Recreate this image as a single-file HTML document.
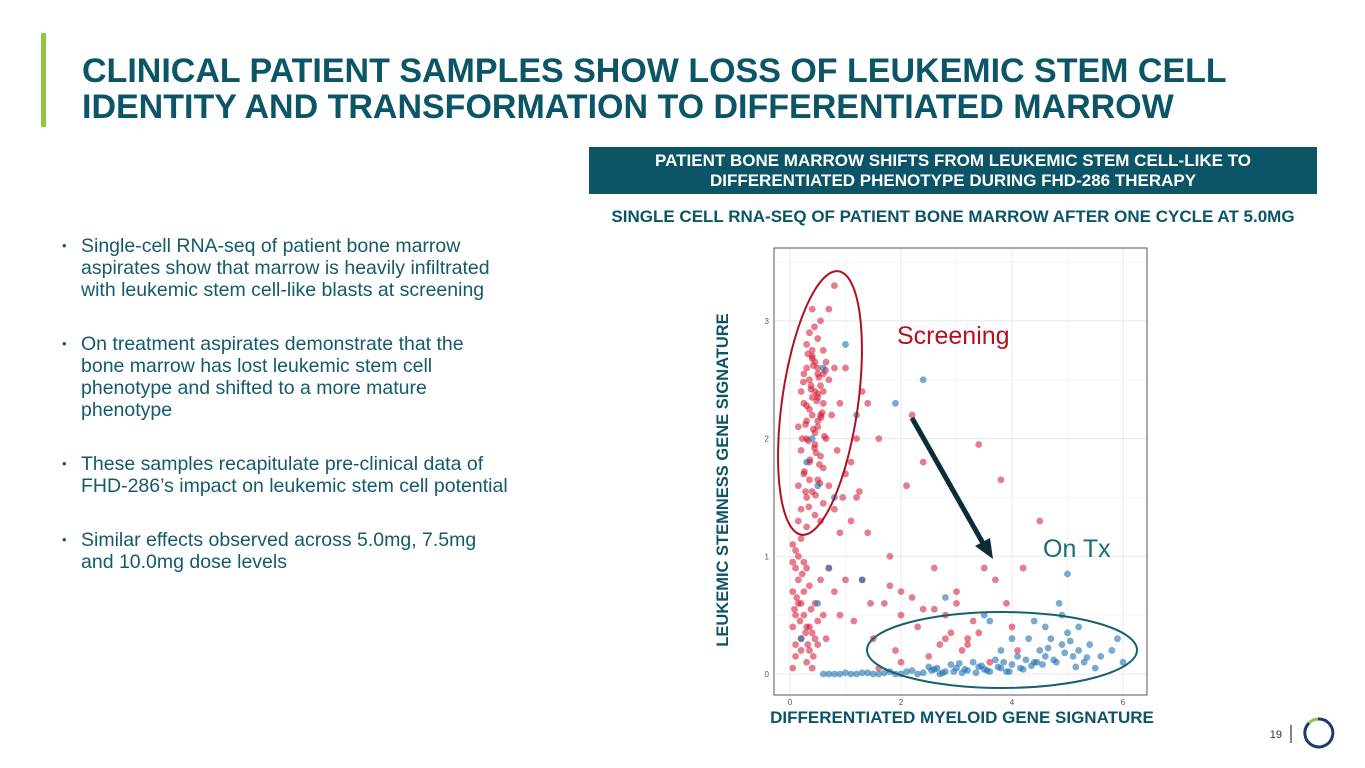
<!DOCTYPE html>
<html><head><meta charset="utf-8">
<style>
body{margin:0;width:1365px;height:768px;background:#fff;font-family:"Liberation Sans",sans-serif;position:relative;overflow:hidden}
.abs{position:absolute}
#title{left:82px;top:53px;font-size:34px;font-weight:bold;color:#0b5566;line-height:36px;white-space:nowrap}
#bar{left:41px;top:33px;width:5px;height:94px;background:#8dc63f}
ul{position:absolute;left:62px;top:235px;width:470px;margin:0;padding:0;list-style:none;color:#155a6b;font-size:19.5px;line-height:22px}
li{position:relative;padding-left:19px;margin-bottom:32px}
li:before{content:"•";position:absolute;left:0;font-size:13px}
#hdr{left:589px;top:147px;width:728px;height:47px;background:#0b5566;color:#fff;font-weight:bold;font-size:17px;text-align:center;line-height:20px;box-sizing:border-box;padding-top:4px}
#sub{left:589px;top:207px;width:728px;text-align:center;color:#0b5566;font-weight:bold;font-size:17px;white-space:nowrap}
</style></head><body>
<div id="bar" class="abs"></div>
<div id="title" class="abs">CLINICAL PATIENT SAMPLES SHOW LOSS OF LEUKEMIC STEM CELL<br>IDENTITY AND TRANSFORMATION TO DIFFERENTIATED MARROW</div>
<ul>
<li>Single-cell RNA-seq of patient bone marrow<br>aspirates show that marrow is heavily infiltrated<br>with leukemic stem cell-like blasts at screening</li>
<li>On treatment aspirates demonstrate that the<br>bone marrow has lost leukemic stem cell<br>phenotype and shifted to a more mature<br>phenotype</li>
<li>These samples recapitulate pre-clinical data of<br>FHD-286’s impact on leukemic stem cell potential</li>
<li>Similar effects observed across 5.0mg, 7.5mg<br>and 10.0mg dose levels</li>
</ul>
<div id="hdr" class="abs">PATIENT BONE MARROW SHIFTS FROM LEUKEMIC STEM CELL-LIKE TO<br>DIFFERENTIATED PHENOTYPE DURING FHD-286 THERAPY</div>
<div id="sub" class="abs">SINGLE CELL RNA-SEQ OF PATIENT BONE MARROW AFTER ONE CYCLE AT 5.0MG</div>
<svg id="chart" class="abs" style="left:0;top:0" width="1365" height="768"></svg>
<script>
const redX=[0.3,0.4,0.5,0.35,0.45,0.55,0.25,0.6,0.4,0.5,0.3,0.2,0.45,0.55,0.35,0.25,0.5,0.4,0.3,0.2,0.45,0.6,0.7,0.65,0.7,0.8,0.75,0.5,0.6,0.35,0.55,0.7,0.8,0.4,0.3,0.2,0.15,0.15,0.5,0.45,0.4,0.55,0.3,0.35,0.6,0.25,0.45,0.65,0.9,1.0,0.85,0.95,0.15,0.3,0.55,0.8,0.4,0.5,0.35,0.6,
0.32,0.42,0.52,0.38,0.48,0.58,0.28,0.62,0.44,0.36,0.26,0.54,0.46,0.34,0.24,0.64,0.4,0.5,0.3,0.56,0.42,0.33,0.47,0.53,0.22,0.38,0.6,0.28,0.44,0.5,
0.05,0.1,0.15,0.05,0.2,0.1,0.3,0.2,0.35,0.1,0.4,0.5,0.15,0.25,0.05,0.1,0.3,0.5,0.6,0.45,0.55,0.7,0.8,0.2,0.35,0.05,0.65,0.9,1.0,0.25,
0.08,0.12,0.18,0.22,0.28,0.32,0.38,0.42,0.15,0.25,0.35,0.45,0.05,0.1,0.2,0.3,
1.2,1.4,1.6,1.8,2.0,2.2,2.4,2.6,2.8,3.0,3.2,3.4,3.5,3.7,3.8,4.0,4.2,4.5,1.5,1.9,2.3,2.5,2.7,3.1,3.3,3.6,4.1,1.3,1.1,1.7,2.1,2.9,1.6,2.0,0.4,3.9,2.4,1.3,
1.1,1.25,1.45,1.2,1.0,2.2,2.6,3.0,3.4,2.0,1.8,2.8,3.2,1.4,0.9,1.15];
const redY=[2.8,2.7,2.6,2.5,2.4,2.45,2.3,2.3,2.2,2.1,2.0,1.9,1.95,1.85,1.8,1.7,1.65,1.55,1.5,1.4,1.35,1.45,1.6,2.0,2.5,2.6,2.2,2.85,2.75,2.9,3.0,3.1,3.3,3.1,2.6,2.4,2.1,1.6,2.55,2.65,2.35,2.2,2.15,1.65,1.75,2.55,2.05,2.65,2.3,2.6,1.9,1.5,1.3,1.25,1.3,1.4,2.75,2.35,2.25,2.55,
2.72,2.62,2.52,2.42,2.32,2.22,2.12,2.02,1.92,1.82,1.72,1.62,1.52,1.42,2.48,2.58,2.68,2.38,2.28,2.18,2.08,1.98,1.88,1.78,2.0,2.45,2.4,1.55,2.95,2.15,
1.1,0.9,0.8,0.7,0.6,0.5,0.4,0.3,0.2,0.25,0.35,0.45,1.0,0.95,0.4,0.15,0.1,0.25,0.5,0.6,0.8,0.9,0.7,1.15,0.75,0.05,0.3,0.5,0.8,0.5,
0.55,0.65,0.45,0.85,0.35,0.25,0.55,0.15,0.6,0.7,0.4,0.3,0.95,1.05,0.2,0.9,
1.5,1.2,2.0,1.0,0.7,2.2,1.8,0.9,0.5,0.6,0.3,1.95,0.9,0.8,1.65,0.4,0.9,1.3,0.3,0.2,0.4,0.15,0.25,0.2,0.45,0.1,0.2,2.4,1.8,0.6,1.6,0.35,0.05,0.1,0.05,0.6,0.55,0.8,
1.3,1.55,0.6,2.0,1.7,0.65,0.55,0.7,0.35,0.5,0.75,0.3,0.25,2.3,1.2,0.45];
const blueX=[0.6,0.8,1.0,1.2,1.4,1.6,1.8,2.0,2.2,2.4,2.6,2.8,3.0,3.2,3.4,3.6,3.8,4.0,4.2,4.4,2.5,2.9,3.3,3.7,3.1,3.5,3.9,2.7,
0.7,0.9,1.1,1.3,1.5,1.7,1.9,2.1,2.3,2.55,2.75,2.95,3.15,3.35,3.55,3.75,3.95,4.15,4.35,3.05,3.45,3.85,4.25,2.65,
4.5,4.6,4.7,4.8,4.9,5.0,5.1,5.2,5.3,5.4,5.5,5.6,4.3,4.1,4.4,4.85,5.0,5.8,6.0,5.9,3.6,3.8,4.0,4.6,5.2,4.9,
4.55,4.75,4.95,5.15,5.35,4.65,4.45,5.05,
0.4,0.5,0.6,0.3,0.8,1.2,1.3,2.4,1.9,0.7,0.2,0.5,1.0,3.5,2.8];
const blueY=[0,0,0.01,0,0.01,0,0.02,0,0.03,0.01,0.04,0.02,0.05,0.03,0.06,0.02,0.05,0.08,0.04,0.1,0.06,0.08,0.1,0.12,0.01,0.04,0.02,0.0,
0,0,0,0.01,0,0.01,0,0.02,0,0.03,0.01,0.02,0.04,0.01,0.03,0.06,0.02,0.05,0.07,0.09,0.07,0.1,0.12,0.05,
0.2,0.15,0.3,0.1,0.25,0.35,0.15,0.2,0.1,0.25,0.05,0.15,0.3,0.15,0.45,0.6,0.85,0.2,0.1,0.3,0.45,0.2,0.3,0.4,0.4,0.5,
0.08,0.12,0.18,0.06,0.14,0.22,0.1,0.28,
2.0,1.6,2.6,1.8,1.5,2.2,0.8,2.5,2.3,0.9,0.3,0.6,2.8,0.5,0.65];
const xTicks=[0,2,4,6];
const yTicks=[0,1,2,3];
const NS="http://www.w3.org/2000/svg";
const svg=document.getElementById('chart');
const sx=v=>790+v*55.5, sy=v=>674-v*117.7;
function mk(t,a){const e=document.createElementNS(NS,t);for(const k in a)e.setAttribute(k,a[k]);svg.appendChild(e);return e;}
const panel=mk('rect',{x:774,y:248,width:373,height:447,fill:'#fff',stroke:'#555','stroke-width':1});


for(let v=0;v<=6;v+=1){const g=mk('line',{x1:sx(v),x2:sx(v),y1:249,y2:694,stroke:v%2?'#f4f4f4':'#e8e8e8'});

}
for(let v=0;v<=3.5;v+=0.5){const g=mk('line',{x1:775,x2:1146,y1:sy(v),y2:sy(v),stroke:v%1?'#f4f4f4':'#e8e8e8'});

}
xTicks.forEach(v=>{const t=mk('text',{x:sx(v),y:705,'font-size':8,fill:'#555','text-anchor':'middle'});t.textContent=v;

});
yTicks.forEach(v=>{const t=mk('text',{x:769,y:sy(v)+3,'font-size':8,fill:'#555','text-anchor':'end'});t.textContent=v;

});
redX.forEach((x,i)=>{const c=mk('circle',{cx:sx(x),cy:sy(redY[i]),r:3.4,fill:'#d4102e','fill-opacity':0.55});

});
blueX.forEach((x,i)=>{const c=mk('circle',{cx:sx(x),cy:sy(blueY[i]),r:3.4,fill:'#1f72b0','fill-opacity':0.6});

});
const e1=mk('ellipse',{cx:820,cy:403,rx:38,ry:133,fill:'none',stroke:'#b0101f','stroke-width':2,transform:'rotate(8 820 403)'});


const e2=mk('ellipse',{cx:1002,cy:650,rx:135,ry:38,fill:'none',stroke:'#15616f','stroke-width':2});


const ar=mk('line',{x1:912,y1:418,x2:984,y2:545,stroke:'#0d2d36','stroke-width':5});


const ah=mk('polygon',{points:'993,559 975,546 990,538',fill:'#0d2d36'});


const l1=mk('text',{x:897,y:344,'font-size':25,fill:'#b5101f'});l1.textContent='Screening';


const l2=mk('text',{x:1043,y:557,'font-size':25,fill:'#1a6a7a'});l2.textContent='On Tx';


const yt=mk('text',{x:0,y:0,'font-size':16.5,'font-weight':'bold',fill:'#0b5566','text-anchor':'middle',transform:'translate(728 480) rotate(-90)'});yt.textContent='LEUKEMIC STEMNESS GENE SIGNATURE';


const xt=mk('text',{x:962,y:723,'font-size':17,'font-weight':'bold',fill:'#0b5566','text-anchor':'middle'});xt.textContent='DIFFERENTIATED MYELOID GENE SIGNATURE';


const pn=mk('text',{x:1282,y:738,'font-size':11,fill:'#333','text-anchor':'end'});pn.textContent='19';


mk('line',{x1:1291,x2:1291,y1:725,y2:743,stroke:'#333','stroke-width':1.2});
const r1=mk('path',{d:'M1309,723 A14,14 0 1 0 1318,719',fill:'none',stroke:'#1c3a6b','stroke-width':3});


mk('path',{d:'M1318,719 A14,14 0 0 0 1309,723',fill:'none',stroke:'#8dc63f','stroke-width':3});
</script>
</body></html>
